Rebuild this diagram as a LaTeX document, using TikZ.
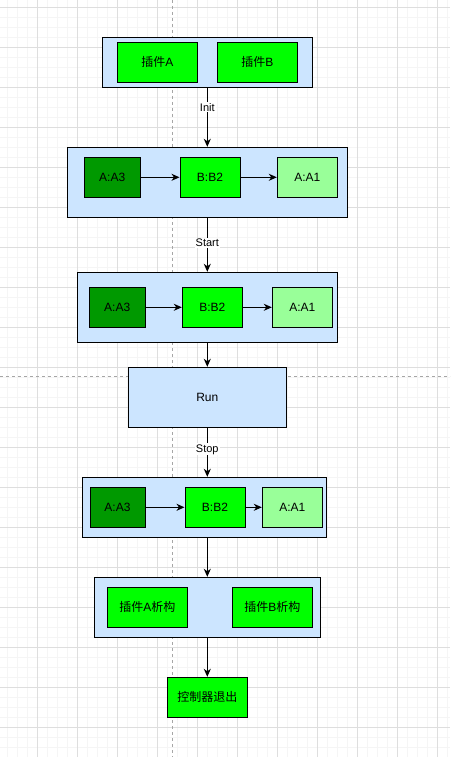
\documentclass[tikz,border=0pt]{standalone}
\usepackage{fontspec}
\setmainfont{Liberation Sans}
\newfontfamily\cjk{Noto Sans CJK SC}
\usetikzlibrary{arrows.meta}
\definecolor{panelblue}{HTML}{CCE5FF}
\definecolor{plugA}{HTML}{009900}
\definecolor{plugB}{HTML}{00FF00}
\definecolor{plugC}{HTML}{99FF99}
\newcommand{\zh}[1]{{\cjk #1}}
\tikzset{
  gridminor/.style={draw=black!4,line width=0.8pt},
  gridmajor/.style={draw=black!13,line width=0.8pt},
  pagebreak/.style={draw=black!35,line width=0.8pt,dash pattern=on 3pt off 3pt},
  panel/.style={draw=black,fill=panelblue,line width=1pt,inner sep=0pt},
  plug/.style={draw=black,fill=#1,line width=1pt,inner sep=0pt,minimum height=40pt,
    font=\fontsize{12}{14}\selectfont},
  arr/.style={draw=black,line width=1pt,-{Stealth[length=8pt,width=7pt,inset=2.5pt]}},
  lab/.style={fill=white,inner sep=1pt,font=\fontsize{11}{13}\selectfont}
}
\begin{document}
\begin{tikzpicture}[x=1pt,y=-1pt]
\useasboundingbox (0,0) rectangle (450,757);
\fill[white] (0,0) rectangle (450,757);
% background grid
\foreach \x in {7.3,17.3,...,447.3} \draw[gridminor] (\x,0) -- (\x,757);
\foreach \y in {7.3,17.3,...,757.3} \draw[gridminor] (0,\y) -- (450,\y);
\foreach \x in {37.3,77.3,...,437.3} \draw[gridmajor] (\x,0) -- (\x,757);
\foreach \y in {7.3,47.3,...,727.3} \draw[gridmajor] (0,\y) -- (450,\y);
\draw[pagebreak] (172,0) -- (172,757);
\draw[pagebreak] (0,376) -- (450,376);

% plugins
\node[panel,minimum width=210pt,minimum height=50pt] (plugs) at (207.7,62.3) {};
\node[plug=plugB,minimum width=80pt] (pa) at (157.3,62.3) {\zh{插件}A};
\node[plug=plugB,minimum width=80pt] (pb) at (257.3,62.3) {\zh{插件}B};

% init
\node[panel,minimum width=280pt,minimum height=70pt] (init) at (207.3,182.3) {};
\node[plug=plugA,minimum width=56pt] (ia3) at (112.2,177.3) {A:A3};
\node[plug=plugB,minimum width=60pt] (ib2) at (210,177.3) {B:B2};
\node[plug=plugC,minimum width=60pt] (ia1) at (307.3,177.3) {A:A1};
\draw[arr] (ia3) -- (ib2);
\draw[arr] (ib2) -- (ia1);

% start
\node[panel,minimum width=260pt,minimum height=70pt] (start) at (207.3,307.3) {};
\node[plug=plugA,minimum width=56pt] (sa3) at (117.2,307.3) {A:A3};
\node[plug=plugB,minimum width=60pt] (sb2) at (212.3,307.3) {B:B2};
\node[plug=plugC,minimum width=60pt] (sa1) at (302.3,307.3) {A:A1};
\draw[arr] (sa3) -- (sb2);
\draw[arr] (sb2) -- (sa1);

% run
\node[panel,minimum width=158pt,minimum height=60pt,font=\fontsize{12}{14}\selectfont]
  (run) at (207.3,397.3) {Run};

% stop
\node[panel,minimum width=244pt,minimum height=60pt] (stop) at (204.7,507.3) {};
\node[plug=plugA,minimum width=55pt] (ta3) at (117.5,507.3) {A:A3};
\node[plug=plugB,minimum width=60pt] (tb2) at (215,507.3) {B:B2};
\node[plug=plugC,minimum width=60pt] (ta1) at (292.3,507.3) {A:A1};
\draw[arr] (ta3) -- (tb2);
\draw[arr] (tb2) -- (ta1);

% destroy
\node[panel,minimum width=226pt,minimum height=60pt] (dtor) at (207.3,607.3) {};
\node[plug=plugB,minimum width=80pt] (da) at (147.3,607.3) {\zh{插件}A\zh{析构}};
\node[plug=plugB,minimum width=80pt] (db) at (272.3,607.3) {\zh{插件}B\zh{析构}};

% quit
\node[plug=plugB,minimum width=80pt] (quit) at (207.3,697.3) {\zh{控制器退出}};

% flow
\draw[arr] (plugs.south -| init.north) -- node[lab,pos=0.33] {Init} (init.north);
\draw[arr] (init.south) -- node[lab,pos=0.47] {Start} (start.north);
\draw[arr] (start.south) -- (run.north);
\draw[arr] (run.south) -- node[lab,pos=0.44] {Stop} (stop.north -| run.south);
\draw[arr] (stop.south -| dtor.north) -- (dtor.north);
\draw[arr] (dtor.south) -- (quit.north);
\end{tikzpicture}
\end{document}
